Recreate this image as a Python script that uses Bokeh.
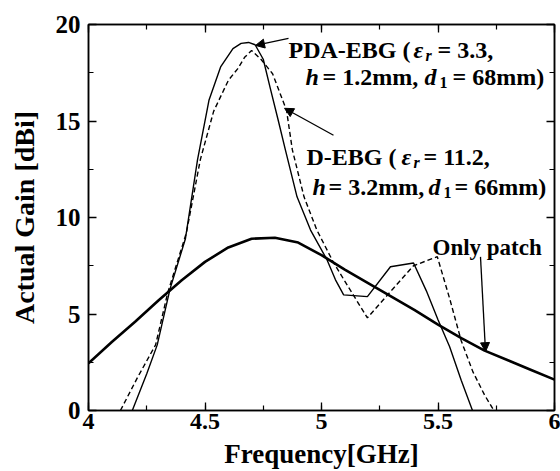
import math
from bokeh.plotting import figure
from bokeh.models import Label, Arrow, NormalHead, LinearAxis, SingleIntervalTicker, Range1d
from bokeh.embed import file_html
from bokeh.resources import INLINE

# ---- data ----
freq_patch = [4.0, 4.1, 4.2, 4.3, 4.4, 4.5, 4.6, 4.7, 4.8, 4.9, 5.0,
              5.1, 5.2, 5.3, 5.4, 5.5, 5.6, 5.7, 5.8, 5.9, 6.0]
gain_patch = [2.45, 3.55, 4.6, 5.7, 6.75, 7.7, 8.45, 8.9, 8.95, 8.7, 8.05,
              7.3, 6.6, 5.9, 5.2, 4.45, 3.75, 3.1, 2.6, 2.1, 1.6]

freq_pda = [4.188, 4.25, 4.295, 4.35, 4.416, 4.468, 4.517, 4.567, 4.62, 4.655,
            4.687, 4.715, 4.75, 4.78, 4.815, 4.845, 4.895, 4.953, 5.024, 5.06, 5.095,
            5.197, 5.296, 5.395, 5.45, 5.5, 5.55, 5.6, 5.648]
gain_pda = [0.0, 1.9, 3.4, 6.3, 8.9, 13.0, 16.07, 17.8, 18.75, 19.02,
            19.07, 18.95, 18.2, 16.7, 15.0, 13.5, 11.07, 9.35, 7.8, 6.77, 5.99,
            5.9, 7.45, 7.64, 6.2, 4.7, 3.3, 1.55, 0.0]

freq_debg = [4.137, 4.21, 4.288, 4.34, 4.42, 4.48, 4.537, 4.6, 4.64, 4.67,
             4.70, 4.74, 4.79, 4.85, 4.875, 4.925, 4.98, 5.05, 5.10, 5.197,
             5.295, 5.395, 5.497, 5.55, 5.6, 5.65, 5.7, 5.74]
gain_debg = [0.0, 1.7, 3.4, 6.1, 9.2, 13.0, 15.5, 17.1, 17.7, 18.3,
             18.65, 18.2, 17.45, 15.55, 13.5, 11.07, 9.35, 7.7, 6.7, 4.8,
             6.15, 7.5, 7.97, 5.8, 3.6, 2.0, 0.8, 0.0]

x_tick_values = [4, 4.5, 5, 5.5, 6]
x_tick_labels = ["4", "4.5", "5", "5.5", "6"]

FONT = "Liberation Serif"

p = figure(width=560, height=471, x_range=Range1d(4, 6), y_range=Range1d(0, 20),
           output_backend="svg", toolbar_location=None,
           min_border_left=88, min_border_right=6, min_border_top=24, min_border_bottom=60)
p.xgrid.visible = False
p.ygrid.visible = False
p.outline_line_color = "black"
p.outline_line_width = 1.5
p.background_fill_color = "white"
p.border_fill_color = "white"

def style_axis(ax, ticker, show_labels):
    ax.ticker = ticker
    ax.axis_line_color = "black"
    ax.axis_line_width = 1.5
    ax.major_tick_line_color = "black"
    ax.minor_tick_line_color = "black"
    ax.major_tick_line_width = 1.3
    ax.minor_tick_line_width = 1.2
    ax.major_tick_in = 8
    ax.major_tick_out = 0
    ax.minor_tick_in = 5
    ax.minor_tick_out = 0
    if show_labels:
        ax.major_label_text_font = FONT
        ax.major_label_text_font_style = "bold"
        ax.major_label_text_font_size = "24px"
        ax.major_label_text_color = "black"
        ax.axis_label_text_font = FONT
        ax.axis_label_text_font_style = "bold"
        ax.axis_label_text_color = "black"
    else:
        ax.major_label_text_font_size = "1px"
        ax.major_label_text_color = None
        ax.major_label_standoff = 0

xa = p.xaxis[0]
style_axis(xa, SingleIntervalTicker(interval=0.5, num_minor_ticks=2), True)
xa.major_label_overrides = {v: s for v, s in zip(x_tick_values, x_tick_labels)}
xa.major_label_standoff = 3
xa.axis_label = "Frequency[GHz]"
xa.axis_label_text_font_size = "27px"
xa.axis_label_standoff = 7

ya = p.yaxis[0]
style_axis(ya, SingleIntervalTicker(interval=5, num_minor_ticks=2), True)
ya.major_label_text_font_size = "25px"
ya.major_label_standoff = 8
ya.axis_label = "Actual Gain [dBi]"
ya.axis_label_text_font_size = "28px"
ya.axis_label_standoff = 13

top = LinearAxis()
style_axis(top, SingleIntervalTicker(interval=0.5, num_minor_ticks=2), False)
p.add_layout(top, "above")
right = LinearAxis()
style_axis(right, SingleIntervalTicker(interval=5, num_minor_ticks=2), False)
p.add_layout(right, "right")

p.line(freq_patch, gain_patch, line_color="black", line_width=2.6)
p.line(freq_pda, gain_pda, line_color="black", line_width=1.4)
p.line(freq_debg, gain_debg, line_color="black", line_width=1.4, line_dash="5 3")

# helpers: page pixel -> data coordinates (for placing annotations only)
def X(px):
    return 4 + (px - 88) * 2.0 / 466.0

def Y(py):
    return (411 - py) * 20.0 / 387.0

def txt(px, py, s, size="24px", style="bold"):
    p.add_layout(Label(x=X(px), y=Y(py), text=s, text_font=FONT, text_font_style=style,
                       text_font_size=size, text_color="black",
                       text_align="left", text_baseline="alphabetic"))

# PDA-EBG annotation
txt(288, 50, "PDA-EBG (")
txt(413, 50, "\u03b5", style="bold italic")
txt(425, 55, "r", size="16px", style="bold italic")
txt(437, 50, "= 3.3,")
txt(305, 77, "h", style="bold italic")
txt(322, 77, "= 1.2mm,")
txt(424, 77, "d", style="bold italic")
txt(439, 82, "1", size="16px")
txt(452, 77, "= 68mm)")

# D-EBG annotation
txt(306, 157, "D-EBG (")
txt(401, 157, "\u03b5", style="bold italic")
txt(413, 162, "r", size="16px", style="bold italic")
txt(423, 157, "= 11.2,")
txt(312, 187, "h", style="bold italic")
txt(328, 187, "= 3.2mm,")
txt(428, 187, "d", style="bold italic")
txt(443, 192, "1", size="16px")
txt(454, 187, "= 66mm)")

# Only patch
txt(432, 248, "Only patch", size="23px")

def arrow(x0, y0, x1, y1):
    p.add_layout(Arrow(end=NormalHead(size=9, fill_color="black", line_color="black", line_width=1),
                       x_start=X(x0), y_start=Y(y0), x_end=X(x1), y_end=Y(y1),
                       line_color="black", line_width=1.3))

arrow(288, 38, 255, 45)
arrow(333, 135, 284, 108)
arrow(480, 257, 485, 352)

open("out.html", "w").write(file_html(p, INLINE))
